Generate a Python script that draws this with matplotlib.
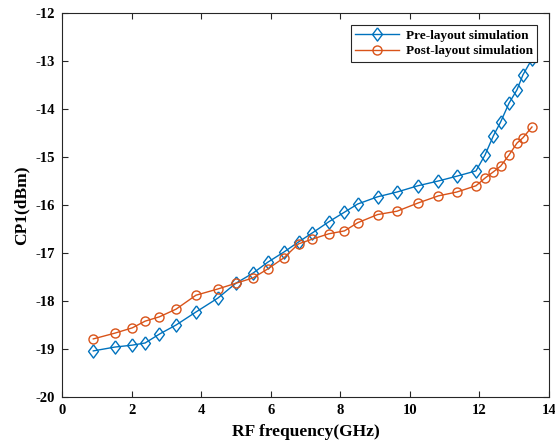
import matplotlib
matplotlib.use("Agg")
import matplotlib.pyplot as plt

freq = [0.9, 1.52, 2.02, 2.39, 2.8, 3.28, 3.85, 4.48, 5.0, 5.49, 5.92, 6.38, 6.8, 7.2,
        7.67, 8.12, 8.5, 9.07, 9.63, 10.23, 10.82, 11.35, 11.9, 12.16, 12.4, 12.61,
        12.85, 13.08, 13.25, 13.51]
pre_layout = [-19.04, -18.96, -18.92, -18.875, -18.69, -18.5, -18.23, -17.94, -17.63,
              -17.42, -17.19, -16.98, -16.77, -16.58, -16.35, -16.15, -15.98, -15.83,
              -15.73, -15.6, -15.5, -15.4, -15.29, -14.96, -14.56, -14.27, -13.88,
              -13.6, -13.29, -12.96]
post_layout = [-18.79, -18.67, -18.56, -18.42, -18.33, -18.17, -17.88, -17.75, -17.63,
               -17.52, -17.33, -17.1, -16.81, -16.71, -16.6, -16.54, -16.37, -16.2,
               -16.13, -15.96, -15.81, -15.73, -15.6, -15.44, -15.31, -15.19, -14.96,
               -14.71, -14.6, -14.375]

plt.rcParams['font.family'] = ['Liberation Serif', 'DejaVu Serif']
plt.rcParams['font.weight'] = 'bold'
plt.rcParams['axes.unicode_minus'] = False

# MATLAB-like diamond: a bit narrower than tall
diamond = [(0, 1), (0.75, 0), (0, -1), (-0.75, 0), (0, 1)]

fig = plt.figure(figsize=(5.55, 4.46), dpi=100)
ax = fig.add_axes([0.1117, 0.1099, 0.8775, 0.861])

ax.plot(freq, pre_layout, color="#0072BD", lw=1, marker=diamond, ms=9.5, mfc="none",
        mew=1, label="Pre-layout simulation")
ax.plot(freq, post_layout, color="#D95319", lw=1, marker="o", ms=6.5, mfc="none",
        mew=1, label="Post-layout simulation")

ax.set_xlim(0, 14)
ax.set_ylim(-20, -12)
ax.set_xticks(range(0, 15, 2))
ax.set_yticks(range(-20, -11, 1))
ax.tick_params(direction="in", top=True, right=True, labelsize=10.5, colors="#262626",
               length=4, width=0.8, pad=5)
for lab in ax.get_xticklabels() + ax.get_yticklabels():
    lab.set_fontweight("bold")
    lab.set_color("black")
for sp in ax.spines.values():
    sp.set_color("#262626")
    sp.set_linewidth(0.8)

ax.set_xlabel("RF frequency(GHz)", fontsize=12.5, fontweight="bold", labelpad=5)
ax.set_ylabel("CP1(dBm)", fontsize=12.5, fontweight="bold", labelpad=4)

leg = ax.legend(loc="upper right", fontsize=9.5, fancybox=False, framealpha=1,
                edgecolor="#262626", borderpad=0.35, labelspacing=0.25,
                handlelength=3.3, handletextpad=0.5, borderaxespad=0.9)
leg.get_frame().set_linewidth(0.8)
for t in leg.get_texts():
    t.set_fontweight("bold")

fig.savefig("out.png", dpi=100, facecolor="white")
